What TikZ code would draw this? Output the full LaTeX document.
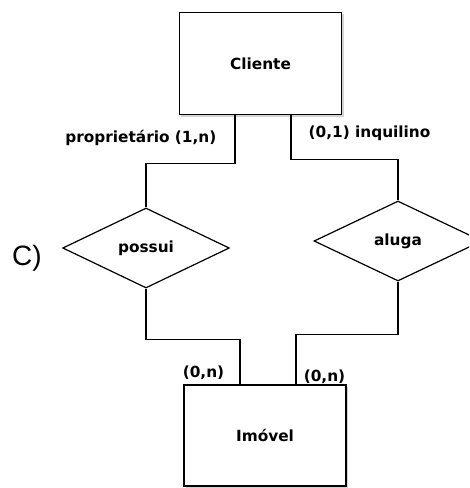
\documentclass[tikz,border=0pt]{standalone}
\usepackage{fontspec}
\setmainfont{DejaVu Sans}
\newfontfamily\arialfont{Liberation Sans}
\usetikzlibrary{shapes.geometric,shadows}

\tikzset{every picture/.style={line width=0.9pt}}
\tikzset{
  entity/.style={draw, fill=white, inner sep=0pt, minimum width=122pt, minimum height=77pt,
    drop shadow={shadow xshift=1.5pt, shadow yshift=-1.5pt, opacity=0.35}},
  relation/.style={draw, diamond, aspect=2, fill=white, inner sep=0pt, minimum width=125pt, minimum height=60pt},
  erlabel/.style={inner sep=0pt, font=\fontsize{11.5pt}{13pt}\selectfont\bfseries}
}

\begin{document}
\begin{tikzpicture}[x=0.75pt,y=0.75pt,yscale=-1,xscale=1]
	\useasboundingbox (0,0) rectangle (469,488);
	\clip (0,0) rectangle (469,488);

	% Entities
	\node [entity] (cliente) at (260.5,63.5) {\fontsize{11.5pt}{13pt}\selectfont\bfseries Cliente};
	\node [entity, minimum width=121.5pt, minimum height=75.75pt] (imovel) at (265,435.5) {\fontsize{11.5pt}{13pt}\selectfont\bfseries Imóvel};

	% Relationships
	\node [relation] (possui) at (146,248) {\fontsize{11.5pt}{13pt}\selectfont\bfseries possui};
	\node [relation, minimum width=126pt] (aluga) at (398,241) {\fontsize{11.5pt}{13pt}\selectfont\bfseries aluga};

	% Connectors
	\draw ([xshift=-19.1pt]cliente.south) -- ++(0,48) -| (possui.north);
	\draw ([xshift=22.9pt]cliente.south) -- ++(0,44) -| (aluga.north);
	\draw (possui.south) -- ++(0,51) -| ([xshift=-18.75pt]imovel.north);
	\draw (aluga.south) -- ++(0,53) -| ([xshift=23.25pt]imovel.north);

	% Text Node
	\node [erlabel, anchor=east] (rolep) at (217,138) {proprietário (1,n)};
	% Text Node
	\node [erlabel, anchor=west] (rolei) at (308,133) {(0,1) inquilino};
	% Text Node
	\node [erlabel] (cardp) at (203.5,373) {(0,n)};
	% Text Node
	\node [erlabel] (carda) at (324.5,377) {(0,n)};
	% Text Node
	\node [inner sep=0pt, font=\arialfont\fontsize{21pt}{24pt}\selectfont] (item) at (27,258) {C)};

\end{tikzpicture}
\end{document}
